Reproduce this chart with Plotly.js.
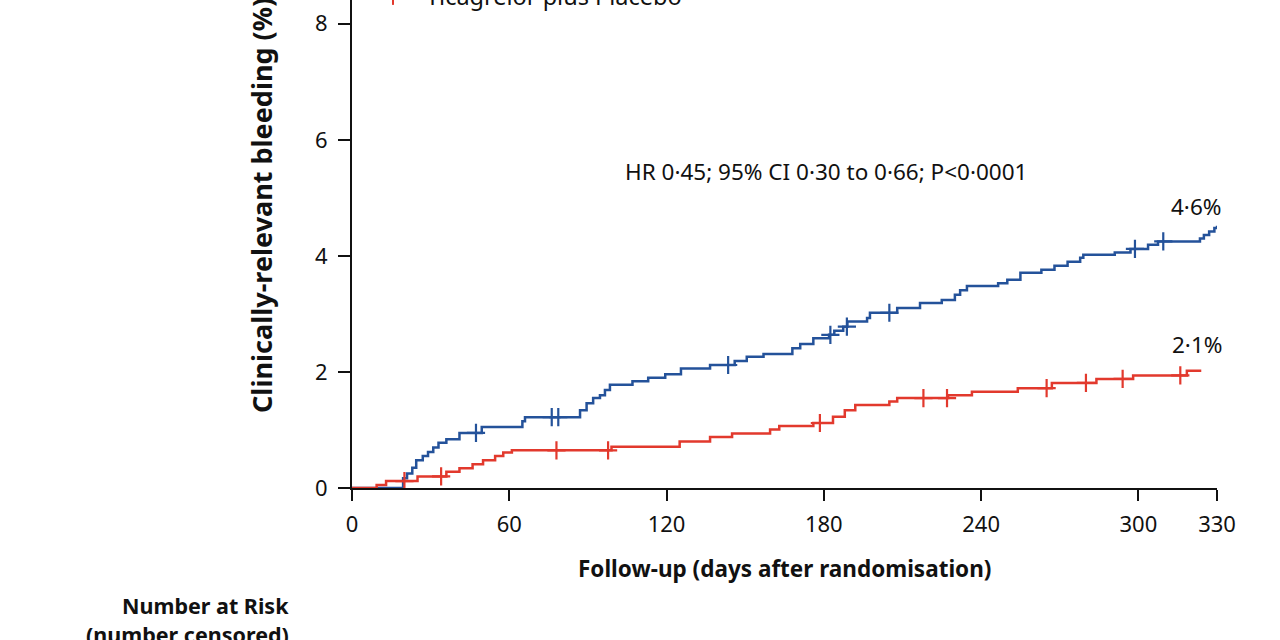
<!DOCTYPE html>
<html>
<head>
<meta charset="utf-8">
<script src="https://cdn.plot.ly/plotly-3.0.1.min.js"></script>
<style>html,body{margin:0;padding:0;background:#fff;}#chart{width:1280px;height:640px;}</style>
</head>
<body>
<div id="chart"></div>
<script>
// Ticagrelor plus Aspirin (blue) — cumulative incidence steps
const aspirinDays = [0, 19.5, 21, 23, 24.5, 27, 29, 31, 33, 36, 41, 49.5, 65, 66, 87, 89.5, 92, 94.6, 96.5, 98.4, 107, 113, 119.5, 125.5, 136.6, 146, 150.6, 157, 168, 171, 176, 182, 184, 187.4, 189, 196.5, 197.6, 208, 216.7, 225, 230, 232, 234.6, 246.5, 250, 255, 263, 268, 273, 277.8, 279, 291, 297, 303.7, 307.5, 323.5, 325, 327, 329, 330];
const aspirinPct  = [0, 0.17, 0.25, 0.35, 0.48, 0.55, 0.62, 0.70, 0.78, 0.84, 0.95, 1.05, 1.15, 1.22, 1.34, 1.46, 1.55, 1.60, 1.69, 1.78, 1.84, 1.90, 1.96, 2.06, 2.12, 2.19, 2.26, 2.31, 2.41, 2.48, 2.58, 2.64, 2.71, 2.78, 2.87, 2.93, 3.02, 3.10, 3.19, 3.24, 3.33, 3.41, 3.48, 3.53, 3.59, 3.71, 3.76, 3.83, 3.90, 3.97, 4.02, 4.06, 4.12, 4.19, 4.25, 4.30, 4.36, 4.42, 4.48, 4.52];
const aspirinCensored = [47.3, 76.2, 78.7, 143.5, 182.5, 188.8, 205, 298.7, 309.5];

// Ticagrelor plus Placebo (red)
const placeboDays = [0, 9.4, 13, 25, 36, 41, 46, 50, 54.6, 57.7, 61, 99, 125, 136.6, 145, 159.5, 163, 176, 183.5, 188, 192, 205, 208, 227.4, 236.5, 254, 267, 284, 298, 318.5, 324];
const placeboPct  = [0, 0.05, 0.12, 0.20, 0.28, 0.34, 0.41, 0.48, 0.55, 0.61, 0.65, 0.71, 0.80, 0.88, 0.94, 1.01, 1.07, 1.12, 1.23, 1.34, 1.43, 1.49, 1.55, 1.60, 1.66, 1.72, 1.81, 1.88, 1.94, 2.02, 2.02];
const placeboCensored = [20, 34, 78, 97.7, 178.5, 218, 227, 265, 280, 294, 316];

const xTicks = [0, 60, 120, 180, 240, 300, 330];
const yTicks = [0, 2, 4, 6, 8];

const seriesNames = ['Ticagrelor plus Aspirin', 'Ticagrelor plus Placebo'];
const finalLabels = ['4·6%', '2·1%'];
const hrText = 'HR 0·45; 95% CI 0·30 to 0·66; P<0·0001';

const BLUE = '#24529A';
const RED = '#E2392D';
const FONT = 'Noto Sans, DejaVu Sans, sans-serif';

function stepValue(days, vals, d) {
  let v = vals[0];
  for (let i = 0; i < days.length; i++) { if (days[i] <= d) v = vals[i]; else break; }
  return v;
}

const traces = [
  {x: aspirinDays, y: aspirinPct, mode: 'lines', line: {shape: 'hv', color: BLUE, width: 2.5}, name: seriesNames[0], hoverinfo: 'skip'},
  {x: placeboDays, y: placeboPct, mode: 'lines', line: {shape: 'hv', color: RED, width: 2.5}, name: seriesNames[1], hoverinfo: 'skip'},
  {x: aspirinCensored, y: aspirinCensored.map(d => stepValue(aspirinDays, aspirinPct, d)), mode: 'markers',
   marker: {symbol: 'cross-thin', size: 13, line: {color: BLUE, width: 2.2}}, hoverinfo: 'skip'},
  {x: placeboCensored, y: placeboCensored.map(d => stepValue(placeboDays, placeboPct, d)), mode: 'markers',
   marker: {symbol: 'cross-thin', size: 13, line: {color: RED, width: 2.2}}, hoverinfo: 'skip'}
];

const layout = {
  width: 1280, height: 640,
  margin: {l: 352, r: 63, t: 0, b: 152, pad: 0},
  paper_bgcolor: '#fff', plot_bgcolor: '#fff',
  showlegend: false,
  font: {family: FONT, color: '#111', size: 20},
  xaxis: {
    range: [0, 330], tickvals: xTicks, ticktext: xTicks.map(String),
    showline: true, linecolor: '#111', linewidth: 2, mirror: false,
    ticks: 'outside', ticklen: 11, tickwidth: 2, tickcolor: '#111',
    showgrid: false, zeroline: false, ticklabelstandoff: 5,
    tickfont: {family: FONT, size: 22, color: '#111'}
  },
  yaxis: {
    range: [0, 8.41], tickvals: yTicks, ticktext: yTicks.map(String),
    showline: true, linecolor: '#111', linewidth: 2,
    ticks: 'outside', ticklen: 12, tickwidth: 2, tickcolor: '#111',
    showgrid: false, zeroline: false, ticklabelstandoff: 6,
    tickfont: {family: FONT, size: 22, color: '#111'}
  },
  annotations: [
    {xref: 'paper', yref: 'paper', x: -0.104, y: 0.578, text: '<b>Clinically-relevant bleeding (%)</b>', textangle: -90,
     showarrow: false, xanchor: 'center', yanchor: 'middle', font: {family: FONT, size: 27, color: '#111'}},
    {xref: 'paper', yref: 'paper', x: 0.4995, y: -0.165, text: '<b>Follow-up (days after randomisation)</b>',
     showarrow: false, xanchor: 'center', yanchor: 'middle', font: {family: FONT, size: 22.5, color: '#111'}},
    {xref: 'x', yref: 'y', x: 181, y: 5.46, text: hrText, showarrow: false, xanchor: 'center', yanchor: 'middle',
     font: {family: FONT, size: 22.5, color: '#111'}},
    {xref: 'x', yref: 'y', x: 322, y: 4.85, text: finalLabels[0], showarrow: false, xanchor: 'center', yanchor: 'middle',
     font: {family: FONT, size: 22.5, color: '#111'}},
    {xref: 'x', yref: 'y', x: 322.5, y: 2.47, text: finalLabels[1], showarrow: false, xanchor: 'center', yanchor: 'middle',
     font: {family: FONT, size: 22.5, color: '#111'}},
    {xref: 'paper', yref: 'paper', x: -0.07, y: -0.24, text: '<b>Number at Risk</b>', showarrow: false,
     xanchor: 'right', yanchor: 'middle', font: {family: FONT, size: 21.5, color: '#111'}},
    {xref: 'paper', yref: 'paper', x: -0.07, y: -0.30, text: '<b>(number censored)</b>', showarrow: false,
     xanchor: 'right', yanchor: 'middle', font: {family: FONT, size: 21.5, color: '#111'}},
    {xref: 'paper', yref: 'paper', x: 0.0835, y: 1.008, text: seriesNames[1], showarrow: false,
     xanchor: 'left', yanchor: 'middle', font: {family: FONT, size: 23.5, color: '#111'}}
  ],
  shapes: [
    {type: 'line', xref: 'paper', yref: 'paper', x0: 0.0474, x1: 0.0474, y0: 0.99, y1: 1.03, line: {color: RED, width: 2}}
  ]
};

Plotly.newPlot('chart', traces, layout, {staticPlot: true, displayModeBar: false});
</script>
</body>
</html>
